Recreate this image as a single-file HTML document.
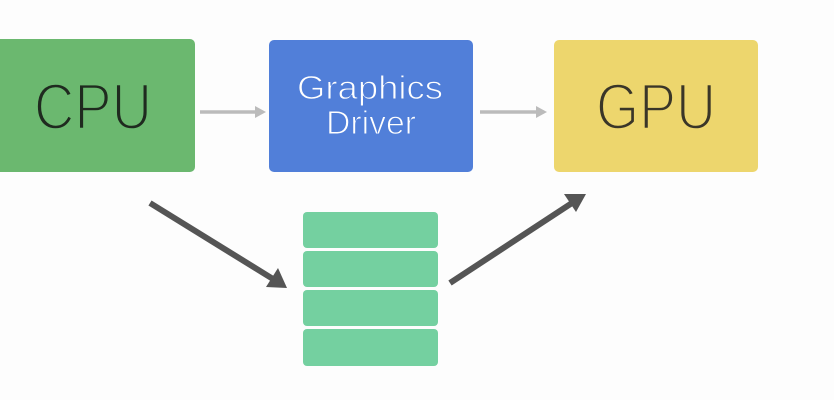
<!DOCTYPE html>
<html><head><meta charset="utf-8"><style>
html,body{margin:0;padding:0;background:#fdfdfd;}
svg{display:block;}
</style></head><body>
<svg width="834" height="400" viewBox="0 0 834 400" xmlns="http://www.w3.org/2000/svg">
<rect width="834" height="400" fill="#fdfdfd"/>
<!-- CPU -->
<rect x="-6" y="39" width="201" height="133" rx="5" fill="#6bb86f"/>
<text x="34" y="129" font-family="Liberation Sans, sans-serif" font-size="65" fill="#1f2a1f" stroke="#6bb86f" stroke-width="2.4" textLength="118" lengthAdjust="spacingAndGlyphs">CPU</text>
<!-- Graphics Driver -->
<rect x="269" y="40" width="204" height="132" rx="5" fill="#517fd9"/>
<text x="297" y="99" font-family="Liberation Sans, sans-serif" font-size="33" fill="#ffffff" stroke="#517fd9" stroke-width="1" textLength="146" lengthAdjust="spacingAndGlyphs">Graphics</text>
<text x="326" y="134" font-family="Liberation Sans, sans-serif" font-size="33" fill="#ffffff" stroke="#517fd9" stroke-width="1" textLength="90" lengthAdjust="spacingAndGlyphs">Driver</text>
<!-- GPU -->
<rect x="554" y="40" width="204" height="132" rx="5" fill="#edd66d"/>
<text x="596" y="129" font-family="Liberation Sans, sans-serif" font-size="65" fill="#3a3628" stroke="#edd66d" stroke-width="2.4" textLength="120" lengthAdjust="spacingAndGlyphs">GPU</text>
<!-- gray arrows -->
<line x1="200" y1="112" x2="257" y2="112" stroke="#bbbbbb" stroke-width="3.5"/>
<polygon points="266,112 255,106 255,118" fill="#bbbbbb"/>
<line x1="480" y1="112" x2="538" y2="112" stroke="#bbbbbb" stroke-width="3.5"/>
<polygon points="547,112 536,106 536,118" fill="#bbbbbb"/>
<!-- stack -->
<rect x="303" y="212" width="135" height="36" rx="4" fill="#74d0a0"/>
<rect x="303" y="251" width="135" height="36" rx="4" fill="#74d0a0"/>
<rect x="303" y="290" width="135" height="36" rx="4" fill="#74d0a0"/>
<rect x="303" y="329" width="135" height="37" rx="4" fill="#74d0a0"/>
<!-- dark arrows -->
<line x1="150" y1="203" x2="273" y2="279" stroke="#555555" stroke-width="6"/>
<polygon points="287,288 266,287 278,268" fill="#555555"/>
<line x1="450" y1="283" x2="572" y2="203" stroke="#555555" stroke-width="6"/>
<polygon points="586,194 576,212 564,194" fill="#555555"/>
</svg>
</body></html>
